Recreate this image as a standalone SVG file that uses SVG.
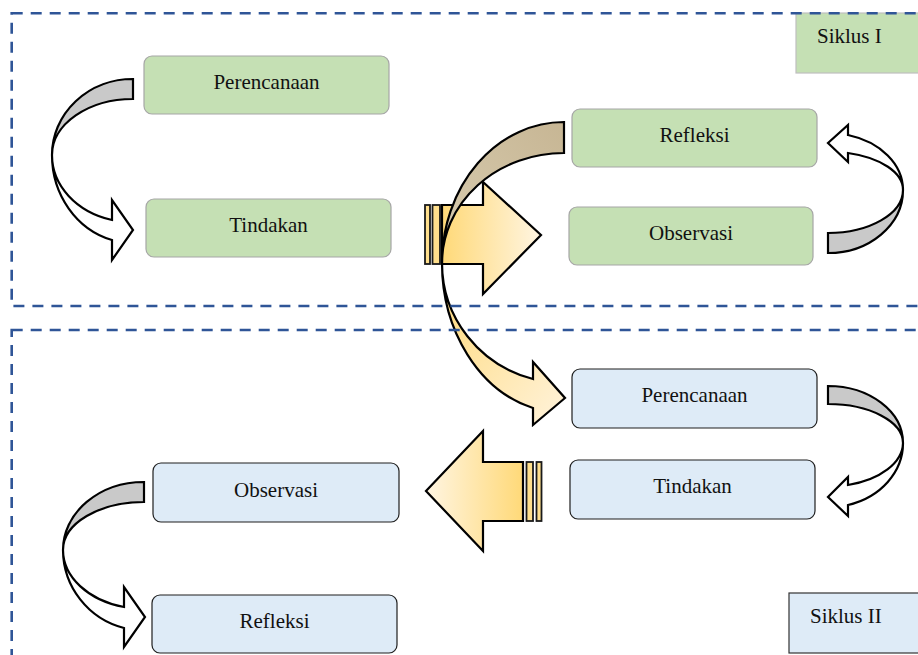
<svg xmlns="http://www.w3.org/2000/svg" width="918" height="655" viewBox="0 0 918 655">
<defs>
<style>
.g{fill:#C5E0B4;stroke:#A6A6A6;stroke-width:1.2}
.b{fill:#DEEBF7;stroke:#1F1F1F;stroke-width:1.2}
.t{font-family:"Liberation Serif","Times New Roman",serif;font-size:21px;fill:#111}
.back{fill:#C9C9C9;stroke:#000;stroke-width:2.2;stroke-linejoin:miter}
.front{fill:#FFFFFF;stroke:#000;stroke-width:2.2;stroke-linejoin:miter}
.stripe{fill:#FFDF8C;stroke:#1A1A1A;stroke-width:1.8}
.fy{stroke:#000;stroke-width:2.2;stroke-linejoin:miter}
.frame{fill:none;stroke:#2F5597;stroke-width:2.6;stroke-dasharray:11 8}
</style>
<linearGradient id="gR" x1="0" y1="0" x2="1" y2="0">
<stop offset="0" stop-color="#FFD978"/><stop offset="1" stop-color="#FFF5E2"/>
</linearGradient>
<linearGradient id="gL" x1="0" y1="0" x2="1" y2="0">
<stop offset="0" stop-color="#FFF5E2"/><stop offset="1" stop-color="#FFD978"/>
</linearGradient>
<linearGradient id="gTan" x1="1" y1="0" x2="0" y2="1">
<stop offset="0" stop-color="#C7B694"/><stop offset="1" stop-color="#D8CCB0"/>
</linearGradient>
<linearGradient id="gFront" x1="0" y1="0" x2="1" y2="1">
<stop offset="0" stop-color="#FFD978"/><stop offset="1" stop-color="#FFF3DC"/>
</linearGradient>
</defs>
<rect width="918" height="655" fill="#FFFFFF"/>

<g id="siklus1">
<rect x="796" y="13" width="130" height="60" fill="#C5E0B4" stroke="#BFBFBF" stroke-width="1.2"/>
<text class="t" x="817" y="43">Siklus I</text>
</g>
<g id="siklus2">
<rect x="789" y="593" width="140" height="60" fill="#DEEBF7" stroke="#333333" stroke-width="1.2"/>
<text class="t" x="810" y="623">Siklus II</text>
</g>

<g id="perencanaan1">
<rect class="g" x="144" y="56" width="245" height="58" rx="8"/>
<text class="t" x="266.5" y="89" text-anchor="middle">Perencanaan</text>
</g>
<g id="tindakan1">
<rect class="g" x="146" y="199" width="245" height="58" rx="8"/>
<text class="t" x="268.5" y="232" text-anchor="middle">Tindakan</text>
</g>
<g id="refleksi1">
<rect class="g" x="572" y="109" width="245" height="58" rx="8"/>
<text class="t" x="694.5" y="142" text-anchor="middle">Refleksi</text>
</g>
<g id="observasi1">
<rect class="g" x="569" y="207" width="244" height="58" rx="8"/>
<text class="t" x="691" y="240" text-anchor="middle">Observasi</text>
</g>

<g id="perencanaan2">
<rect class="b" x="572" y="369" width="245" height="59" rx="8"/>
<text class="t" x="694.5" y="402" text-anchor="middle">Perencanaan</text>
</g>
<g id="tindakan2">
<rect class="b" x="570" y="460" width="245" height="59" rx="8"/>
<text class="t" x="692.5" y="493" text-anchor="middle">Tindakan</text>
</g>
<g id="observasi2">
<rect class="b" x="153" y="463" width="246" height="59" rx="8"/>
<text class="t" x="276" y="497" text-anchor="middle">Observasi</text>
</g>
<g id="refleksi2">
<rect class="b" x="152" y="595" width="245" height="58" rx="8"/>
<text class="t" x="274.5" y="628" text-anchor="middle">Refleksi</text>
</g>

<g id="connectors">
<!-- A: Perencanaan -> Tindakan (Siklus I) -->
<path class="back" d="M133,79 A81,76 0 0 0 52,155 A81,56 0 0 1 133,99 Z"/>
<path class="front" d="M52,155 A81,67 0 0 0 112,220 L112,200 L133,230 L112,260 L112,240 A81,88 0 0 1 52,155 Z"/>
<!-- B: Observasi -> Refleksi (Siklus I) -->
<path class="back" d="M828,253 A75,63 0 0 0 903,190 A75,43 0 0 1 828,233 Z"/>
<path class="front" d="M903,190 A75,38 0 0 0 848,153 L848,162 L828,143 L848,125 L848,135 A75,57 0 0 1 903,190 Z"/>
<!-- C: Perencanaan -> Tindakan (Siklus II) -->
<path class="back" d="M828,386 A75,57 0 0 1 903,443 A75,39 0 0 0 828,404 Z"/>
<path class="front" d="M903,443 A75,44 0 0 1 848,485 L848,477 L828,497 L848,516 L848,505 A75,64 0 0 0 903,443 Z"/>
<!-- D: Observasi -> Refleksi (Siklus II) -->
<path class="back" d="M144,482 A81,68 0 0 0 63,550 A81,48 0 0 1 144,502 Z"/>
<path class="front" d="M63,550 A81,59 0 0 0 124,607 L124,587 L145,617 L124,647 L124,628 A81,81 0 0 1 63,550 Z"/>
<!-- E: striped right arrow -->
<rect class="stripe" x="425" y="205" width="5" height="59"/>
<rect class="stripe" x="432.5" y="205" width="7.5" height="59"/>
<path class="fy" fill="url(#gR)" d="M442,205 L483,205 L483,182 L541,235 L483,294 L483,264 L442,264 Z"/>
<!-- F: striped left arrow -->
<path class="fy" fill="url(#gL)" d="M523,462 L483,462 L483,431 L426,491 L483,551 L483,521 L523,521 Z"/>
<rect class="stripe" x="526.5" y="462" width="6.5" height="59"/>
<rect class="stripe" x="536.5" y="462" width="5" height="59"/>
<!-- G: Refleksi (Siklus I) -> Perencanaan (Siklus II) -->
<path class="fy" fill="url(#gTan)" d="M564,122 A122,141 0 0 0 442,263 A122,110 0 0 1 564,153 Z"/>
<path class="fy" fill="url(#gFront)" d="M442,263 A122,120 0 0 0 533,379 L533,362 L565,398 L533,425 L533,408 A122,150 0 0 1 442,263 Z"/>
</g>

<g id="frames">
<rect class="frame" x="11.7" y="13.3" width="1000" height="292.7"/>
<rect class="frame" x="11.7" y="330" width="1000" height="400"/>
</g>
</svg>
